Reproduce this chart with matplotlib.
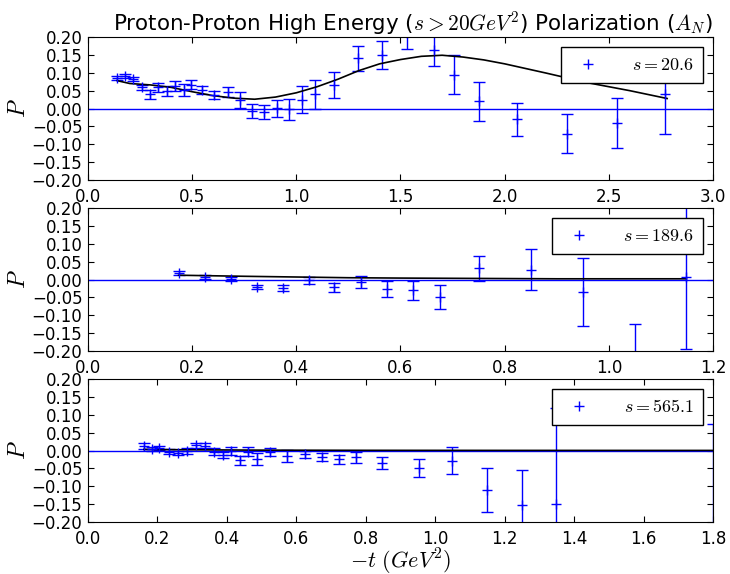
import matplotlib
matplotlib.use("Agg")
import matplotlib.pyplot as plt

# data, one block per energy
s_labels = ["$s=20.6$", "$s=189.6$", "$s=565.1$"]
xmax = [3.0, 1.2, 1.8]
xstep = [0.5, 0.2, 0.2]

t1 = [0.14, 0.18, 0.218, 0.258, 0.298, 0.338, 0.378, 0.42, 0.46, 0.494, 0.547,
      0.606, 0.67, 0.73, 0.786, 0.847, 0.907, 0.966, 1.027, 1.088, 1.179, 1.297,
      1.411, 1.53, 1.659, 1.759, 1.876, 2.057, 2.298, 2.537, 2.772]
p1 = [0.085, 0.091, 0.082, 0.059, 0.040, 0.059, 0.049, 0.063, 0.052, 0.067, 0.052,
      0.039, 0.045, 0.024, -0.007, -0.010, 0.001, -0.002, 0.025, 0.040, 0.065, 0.140,
      0.150, 0.21, 0.165, 0.095, 0.020, -0.030, -0.070, -0.040, 0.040]
e1 = [0.005, 0.006, 0.006, 0.006, 0.012, 0.012, 0.014, 0.015, 0.017, 0.012, 0.010,
      0.011, 0.014, 0.022, 0.020, 0.019, 0.024, 0.030, 0.037, 0.040, 0.036, 0.036,
      0.040, 0.043, 0.046, 0.055, 0.055, 0.046, 0.055, 0.070, 0.110]
mt1 = [0.14, 0.2, 0.3, 0.4, 0.5, 0.6, 0.7, 0.8, 0.9, 1.0, 1.1, 1.2, 1.3, 1.4, 1.5,
       1.6, 1.7, 1.8, 1.9, 2.0, 2.2, 2.4, 2.6, 2.78]
mp1 = [0.078, 0.070, 0.066, 0.059, 0.047, 0.036, 0.029, 0.026, 0.032, 0.044, 0.061,
       0.082, 0.106, 0.125, 0.137, 0.146, 0.149, 0.144, 0.136, 0.125, 0.099, 0.072,
       0.050, 0.028]

t2 = [0.174, 0.224, 0.274, 0.324, 0.374, 0.424, 0.473, 0.524, 0.574, 0.625, 0.675,
      0.750, 0.850, 0.950, 1.050, 1.149]
p2 = [0.018, 0.0065, 0.002, -0.020, -0.024, -0.002, -0.022, -0.008, -0.0265, -0.030,
      -0.049, 0.032, 0.028, -0.036, -0.25, 0.008]
e2 = [0.005, 0.006, 0.005, 0.006, 0.008, 0.010, 0.013, 0.017, 0.022, 0.027, 0.034,
      0.035, 0.056, 0.095, 0.126, 0.203]
mt2 = [0.174, 0.3, 0.4, 0.5, 0.6, 0.75, 0.9, 1.149]
mp2 = [0.012, 0.009, 0.007, 0.005, 0.004, 0.003, 0.002, 0.002]

t3 = [0.161, 0.183, 0.206, 0.233, 0.259, 0.284, 0.311, 0.337, 0.362, 0.388, 0.412,
      0.437, 0.462, 0.487, 0.523, 0.574, 0.625, 0.674, 0.723, 0.773, 0.847, 0.952,
      1.049, 1.149, 1.250, 1.347, 1.80]
p3 = [0.013, 0.005, 0.0075, -0.003, -0.0075, -0.002, 0.015, 0.013, -0.003, -0.012,
      -0.001, -0.027, -0.003, -0.024, -0.0047, -0.015, -0.011, -0.018, -0.025, -0.019,
      -0.0355, -0.049, -0.0285, -0.111, -0.152, -0.150, -0.26]
e3 = [0.008, 0.006, 0.006, 0.006, 0.006, 0.009, 0.007, 0.007, 0.009, 0.009, 0.012,
      0.013, 0.013, 0.016, 0.012, 0.017, 0.0095, 0.010, 0.012, 0.015, 0.016, 0.025,
      0.037, 0.061, 0.097, 0.27, 0.333]
mt3 = [0.161, 0.3, 0.5, 0.8, 1.2, 1.8]
mp3 = [0.003, 0.002, 0.001, 0.0005, 0.0003, 0.0002]

yticks = [-0.20, -0.15, -0.10, -0.05, 0.00, 0.05, 0.10, 0.15, 0.20]

plt.rcParams["mathtext.fontset"] = "cm"
plt.rcParams["font.family"] = "DejaVu Sans"
plt.rcParams["font.size"] = 12
plt.rcParams["xtick.direction"] = "in"
plt.rcParams["ytick.direction"] = "in"
plt.rcParams["xtick.top"] = True
plt.rcParams["ytick.right"] = True
plt.rcParams["xtick.major.size"] = 4
plt.rcParams["ytick.major.size"] = 4
plt.rcParams["xtick.major.pad"] = 6
plt.rcParams["ytick.major.pad"] = 4

fig = plt.figure(figsize=(7.3, 5.74), dpi=100)
boxes = [(0.1205, 0.6864), (0.1205, 0.3885), (0.1205, 0.0906)]
data = [(t1, p1, e1, mt1, mp1), (t2, p2, e2, mt2, mp2), (t3, p3, e3, mt3, mp3)]

for i, (t, p, e, mt, mp) in enumerate(data):
    left, bottom = boxes[i]
    ax = fig.add_axes([left, bottom, 0.8562, 0.2491])
    ax.axhline(0, color="b", lw=1)
    cont = ax.errorbar(t, p, yerr=e, fmt="b+", ecolor="b", elinewidth=1, capsize=4,
                       capthick=1, ms=7)
    ax.plot(mt, mp, "k-", lw=1.2)
    ax.set_xlim(0, xmax[i])
    ax.set_ylim(-0.2, 0.2)
    n = int(round(xmax[i] / xstep[i]))
    xt = [k * xstep[i] for k in range(n + 1)]
    ax.set_xticks(xt)
    ax.set_xticklabels(["%.1f" % v for v in xt])
    ax.set_yticks(yticks)
    ax.set_yticklabels([("%.2f" % v).replace("-", "\u2212") for v in yticks])
    ax.set_ylabel("$P$", fontsize=17, labelpad=1)
    leg = ax.legend([cont[0]], [s_labels[i]], loc="upper right", numpoints=1,
                    fancybox=False, framealpha=1, edgecolor="k", fontsize=13,
                    handlelength=2.0, handletextpad=1.45, borderpad=0.5,
                    borderaxespad=0.55)
    leg.get_frame().set_linewidth(1)
    if i == 0:
        ax.set_title("Proton-Proton High Energy ($s>20GeV^2$) Polarization ($A_N$)",
                     fontsize=15.4, pad=5, x=0.519)
    if i == 2:
        ax.set_xlabel("$-t\\ (GeV^2)$", fontsize=16, labelpad=-1)

plt.savefig("out.png", dpi=100)
